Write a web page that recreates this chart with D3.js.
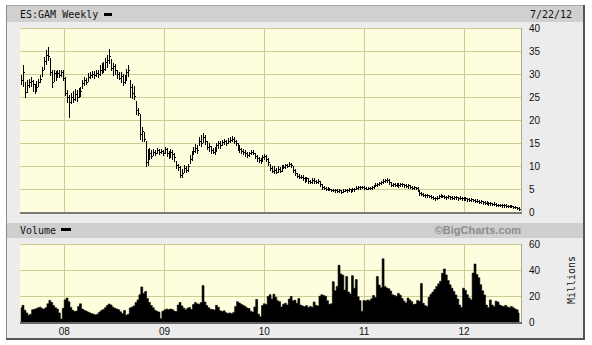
<!DOCTYPE html>
<html lang="en">
<head>
<meta charset="utf-8">
<script src="https://d3js.org/d3.v7.min.js"></script>
<style>
  body { margin: 0; background: #fff; }
  svg text { font-family: "Liberation Sans", Arial, sans-serif; font-size: 10px; fill: #111; }
  svg text.mono { font-family: "DejaVu Sans Mono", monospace; }
</style>
</head>
<body>
<div id="chart"></div>
<script>
// weekly bars, first one on this date, one per week
const firstWeek = new Date(2007, 6, 27);

const hi = [
  29.8, 32.0, 28.2, 28.8, 29.0, 29.4, 28.8, 27.8, 28.6, 28.9,
  29.8, 31.5, 33.8, 35.2, 35.8, 33.4, 31.0, 31.0, 30.6, 31.0,
  30.8, 31.0, 30.8, 29.4, 26.5, 25.5, 25.8, 26.4, 26.8, 26.6,
  27.0, 27.2, 28.8, 29.4, 29.2, 30.2, 30.4, 30.6, 30.6, 30.8,
  31.0, 32.0, 32.4, 32.6, 33.6, 34.2, 35.4, 33.2, 32.4, 32.2,
  31.0, 30.4, 30.4, 30.0, 29.8, 31.2, 32.0, 28.7, 27.8, 27.4,
  24.2, 22.6, 21.4, 18.6, 17.4, 15.6, 13.8, 14.0, 13.6, 13.8,
  13.6, 14.0, 13.8, 13.8, 13.6, 14.2, 14.0, 13.4, 13.8, 13.6,
  13.0, 11.2, 10.6, 10.0, 9.4, 10.2, 10.0, 10.6, 12.4, 13.4,
  14.2, 14.8, 14.6, 16.4, 16.8, 17.2, 16.8, 15.4, 15.0, 14.4,
  14.0, 14.2, 15.0, 15.6, 15.4, 15.8, 16.0, 15.8, 16.2, 16.4,
  16.6, 16.4, 15.8, 15.0, 14.6, 14.0, 13.8, 13.6, 13.2, 13.2,
  13.6, 13.6, 13.0, 12.4, 12.0, 11.8, 12.4, 12.6, 12.4, 11.8,
  10.6, 10.0, 10.0, 9.6, 10.0, 9.8, 10.3, 10.4, 10.6, 10.6,
  11.0, 10.8, 10.0, 9.4, 8.6, 8.4, 8.2, 8.1, 7.6, 7.8,
  7.4, 7.0, 7.4, 7.4, 7.0, 7.2, 6.8, 6.2, 5.8, 5.6,
  5.6, 5.4, 5.2, 5.2, 5.1, 5.0, 5.0, 4.9, 5.0, 5.2,
  5.2, 5.3, 5.2, 5.4, 5.3, 5.8, 5.8, 5.8, 5.8, 5.7,
  5.6, 5.6, 5.6, 5.8, 6.0, 6.3, 6.5, 6.7, 6.9, 7.2,
  7.3, 7.4, 7.2, 6.6, 6.4, 6.3, 6.4, 6.4, 6.4, 6.4,
  6.2, 6.2, 6.1, 5.9, 5.8, 5.8, 5.6, 5.5, 4.8, 4.4,
  4.2, 4.1, 4.1, 3.9, 3.8, 3.6, 3.4, 3.6, 3.8, 4.0,
  3.9, 3.8, 3.6, 3.7, 3.6, 3.5, 3.6, 3.6, 3.4, 3.5,
  3.3, 3.3, 3.3, 3.2, 3.1, 3.1, 3.0, 2.9, 2.9, 2.7,
  2.7, 2.5, 2.5, 2.4, 2.3, 2.3, 2.1, 2.2, 2.0, 1.9,
  1.9, 1.8, 1.8, 1.8, 1.7, 1.7, 1.6, 1.5, 1.4, 1.3, 1.1
];

const lo = [
  27.8, 27.4, 25.1, 26.2, 27.2, 27.4, 26.4, 25.8, 26.6, 27.4,
  28.2, 29.5, 31.2, 32.3, 33.0, 29.8, 27.3, 28.6, 28.8, 29.4,
  29.4, 29.6, 28.8, 25.5, 24.0, 20.8, 23.8, 24.0, 24.4, 24.2,
  25.0, 25.2, 27.0, 27.6, 27.8, 28.6, 29.2, 29.4, 29.2, 29.6,
  29.4, 29.8, 30.2, 30.4, 31.0, 31.6, 32.4, 30.8, 29.8, 30.0,
  29.2, 28.9, 28.4, 27.6, 28.0, 28.8, 29.6, 25.0, 24.8, 24.6,
  21.4, 21.2, 16.0, 15.6, 15.4, 10.1, 10.2, 11.6, 11.8, 12.4,
  12.4, 12.8, 12.6, 13.0, 12.4, 12.8, 12.2, 11.8, 12.0, 11.6,
  11.2, 9.6, 9.2, 7.8, 7.6, 8.8, 8.8, 9.0, 10.8, 11.4,
  12.6, 13.2, 12.8, 14.6, 14.4, 15.2, 14.8, 13.8, 13.4, 13.0,
  12.8, 12.7, 13.4, 14.0, 14.0, 14.6, 14.8, 14.6, 15.0, 15.2,
  15.4, 15.0, 14.6, 13.6, 13.2, 12.8, 12.6, 12.2, 12.0, 12.2,
  12.6, 12.6, 11.8, 11.2, 11.0, 10.8, 11.2, 11.6, 11.2, 10.4,
  9.2, 8.8, 8.6, 8.5, 8.8, 8.8, 9.0, 9.6, 9.6, 9.8,
  10.0, 9.8, 8.8, 8.1, 7.6, 7.4, 7.4, 7.0, 6.7, 6.8,
  6.4, 6.3, 6.4, 6.4, 6.3, 6.4, 5.8, 5.2, 5.2, 4.9,
  4.9, 4.8, 4.6, 4.6, 4.5, 4.5, 4.4, 4.3, 4.4, 4.6,
  4.5, 4.6, 4.5, 4.7, 4.7, 5.1, 5.2, 5.2, 5.3, 5.1,
  5.0, 5.0, 5.1, 5.2, 5.3, 5.7, 5.8, 6.0, 6.2, 6.5,
  6.6, 6.7, 6.2, 5.8, 5.7, 5.7, 5.8, 5.6, 5.8, 5.8,
  5.6, 5.5, 5.4, 5.3, 5.2, 5.2, 5.1, 4.6, 3.8, 3.7,
  3.6, 3.4, 3.4, 3.3, 3.2, 2.9, 2.8, 2.9, 3.1, 3.3,
  3.3, 3.2, 3.0, 3.1, 3.0, 2.9, 3.0, 3.0, 2.8, 2.9,
  2.8, 2.8, 2.7, 2.6, 2.5, 2.6, 2.5, 2.3, 2.2, 2.0,
  2.0, 1.9, 1.9, 1.8, 1.7, 1.7, 1.6, 1.6, 1.5, 1.4,
  1.4, 1.3, 1.3, 1.3, 1.2, 1.2, 1.1, 1.0, 1.0, 0.8, 0.6
];

const cl = [
  28.8, 30.5, 26.2, 27.6, 28.2, 28.6, 27.8, 26.4, 27.2, 28.3,
  29.0, 30.8, 32.8, 34.2, 34.0, 30.5, 28.2, 30.2, 29.4, 30.2,
  29.8, 30.4, 29.2, 26.0, 25.0, 24.0, 25.0, 24.6, 25.6, 25.0,
  25.8, 26.4, 28.0, 28.8, 28.2, 29.4, 29.8, 30.0, 29.8, 30.2,
  30.0, 31.0, 31.6, 31.2, 32.6, 33.0, 34.0, 31.4, 31.8, 30.8,
  30.0, 29.2, 29.6, 28.4, 29.2, 30.4, 31.0, 27.2, 26.0, 25.2,
  22.2, 21.6, 17.0, 17.6, 16.0, 11.0, 12.4, 13.0, 12.2, 13.2,
  12.8, 13.6, 13.2, 13.4, 12.8, 13.8, 13.0, 12.4, 13.2, 12.6,
  12.0, 10.2, 9.8, 8.2, 8.6, 9.6, 9.2, 10.0, 11.6, 12.6,
  13.4, 14.0, 13.6, 15.6, 15.0, 16.4, 15.6, 14.2, 14.4, 13.6,
  13.2, 13.8, 14.6, 15.0, 14.6, 15.2, 15.4, 15.0, 15.6, 15.8,
  16.0, 15.6, 15.0, 14.2, 13.8, 13.4, 13.2, 12.8, 12.4, 12.8,
  13.2, 13.0, 12.2, 11.8, 11.4, 11.2, 12.0, 12.2, 11.6, 11.0,
  9.6, 9.0, 9.2, 8.8, 9.4, 9.0, 9.8, 9.8, 10.2, 10.0,
  10.6, 10.2, 9.2, 8.6, 8.0, 7.8, 7.6, 7.4, 7.0, 7.4,
  6.8, 6.6, 7.0, 6.8, 6.6, 6.8, 6.2, 5.6, 5.4, 5.2,
  5.2, 5.0, 4.8, 4.9, 4.8, 4.6, 4.8, 4.5, 4.7, 4.9,
  4.8, 5.0, 4.8, 5.0, 5.0, 5.4, 5.6, 5.5, 5.6, 5.3,
  5.2, 5.4, 5.3, 5.5, 5.8, 6.0, 6.2, 6.4, 6.6, 6.8,
  7.0, 7.1, 6.6, 6.0, 6.1, 6.0, 6.2, 6.0, 6.2, 6.1,
  6.0, 5.8, 5.9, 5.6, 5.4, 5.5, 5.3, 4.8, 4.2, 4.0,
  3.9, 3.7, 3.8, 3.5, 3.4, 3.2, 3.1, 3.2, 3.5, 3.7,
  3.6, 3.4, 3.3, 3.5, 3.3, 3.2, 3.4, 3.3, 3.1, 3.2,
  3.1, 3.0, 3.1, 2.9, 2.8, 2.9, 2.7, 2.5, 2.6, 2.3,
  2.4, 2.2, 2.1, 2.2, 2.0, 2.0, 1.8, 1.9, 1.7, 1.6,
  1.7, 1.6, 1.6, 1.5, 1.4, 1.5, 1.4, 1.3, 1.2, 1.0, 0.8
];

// weekly volume, millions
const vol = [
  11, 12.8, 9, 7, 5.2, 6, 9.4, 9.8, 10.2, 11,
  11.4, 10.2, 10, 11, 14, 16.6, 15, 12.6, 11, 10,
  7, 2.4, 10.5, 17, 18.4, 15.5, 11.2, 9, 8, 8.4,
  12, 14, 10, 9, 8.4, 7.6, 7, 6.4, 6, 5.4,
  6.2, 7.6, 8.8, 9.6, 11, 12.6, 13.8, 13, 11.4, 10.6,
  10, 9.4, 7.8, 6.4, 8.8, 5.2, 6, 10.8, 11.6, 12.4,
  15, 17, 21, 27, 22, 23.5, 18, 15, 12.6, 11,
  9, 8.2, 7.6, 2.6, 8.2, 9.2, 10, 9.4, 10, 9.6,
  8.4, 8, 13, 15, 12.4, 10.6, 9.4, 10.6, 11.2, 9.6,
  13.4, 15, 14, 13.6, 15, 28, 15.4, 12.6, 11, 9.8,
  9.6, 9.2, 12.8, 11.4, 8.6, 8, 8.6, 7.2, 6.6, 7,
  6.4, 7.4, 12, 15.6, 14.6, 13.6, 12.8, 12, 10.8, 10.4,
  8.2, 7.6, 11.6, 17.4, 6, 4, 12.6, 14, 13.4, 19.6,
  21, 17.6, 21.4, 19, 16.4, 15.6, 11.6, 13.6, 14.4, 13,
  17.6, 19.6, 16.4, 16.8, 14.4, 18, 13, 12.4, 11.8, 12.6,
  11.2, 12, 11.4, 15.4, 12.8, 12.4, 19.8, 21, 20.4, 19.8,
  16.4, 13.6, 14, 31, 24, 27.4, 43.6, 37, 36, 24.6,
  35, 23, 21.6, 35.6, 26, 32.6, 19.4, 16.4, 8.2, 16.6,
  16.2, 17, 16.4, 17.8, 20.4, 18.8, 35, 28.4, 26.4, 48.6,
  27.4, 26.2, 25.6, 23.8, 21, 20.4, 19.8, 22, 20.6, 18,
  16, 14.6, 18.4, 17, 15.6, 13.4, 13.8, 16.6, 16, 29.6,
  14.4, 12.6, 12, 19, 21.4, 23, 25, 27.4, 29.4, 31.4,
  37.5, 40.8, 36.2, 32, 28.6, 26, 23.4, 20.8, 17.6, 13,
  11.2, 26, 24.4, 21, 18.4, 17, 37.6, 44.6, 36.6, 34,
  28.6, 24, 20.8, 13, 11, 17, 13, 12, 16, 15.4,
  13, 12.4, 12, 12.8, 11.6, 11, 12, 11, 10, 9.4, 7
];

const priceTicks = [0, 5, 10, 15, 20, 25, 30, 35, 40];
const volTicks = [0, 20, 40, 60];
const yearTicks = [2008, 2009, 2010, 2011, 2012];

const W = 592, H = 345;
const left = 20, right = 521;
const pTop = 28, pBottom = 212.5;
const vTop = 244, vBottom = 322;
const gridColor = "#cdcd92";
const plotFill = "#fefedf";

const svg = d3.select("#chart")
  .append("svg")
    .attr("width", W)
    .attr("height", H);

const dates = cl.map((d, i) => d3.timeDay.offset(firstWeek, 7 * i));

const x = d3.scaleTime()
  .domain([new Date(2007, 6, 23), new Date(2012, 6, 27)])
  .range([left, right]);
const y = d3.scaleLinear().domain([0, 40]).range([pBottom, pTop]);
const yv = d3.scaleLinear().domain([0, 60]).range([vBottom, vTop]);

// outer frame
svg.append("rect").attr("x", 6).attr("y", 5).attr("width", 578).attr("height", 333).attr("fill", "#ececec");
svg.append("rect").attr("x", 7).attr("y", 6).attr("width", 577).attr("height", 16).attr("fill", "#d0d0d0");
svg.append("rect").attr("x", 7).attr("y", 223).attr("width", 577).attr("height", 15).attr("fill", "#cfcfcf");
svg.append("rect").attr("x", 6).attr("y", 5).attr("width", 578).attr("height", 1).attr("fill", "#a8a8a8");
svg.append("rect").attr("x", 6).attr("y", 5).attr("width", 1).attr("height", 334).attr("fill", "#8a8a8a");
svg.append("rect").attr("x", 583).attr("y", 5).attr("width", 2).attr("height", 335).attr("fill", "#555");
svg.append("rect").attr("x", 6).attr("y", 338).attr("width", 579).attr("height", 2).attr("fill", "#555");

// plot areas
svg.append("rect").attr("x", left).attr("y", pTop).attr("width", right - left).attr("height", pBottom - pTop).attr("fill", plotFill);
svg.append("rect").attr("x", left).attr("y", vTop).attr("width", right - left).attr("height", vBottom - vTop).attr("fill", plotFill);

const grid = svg.append("g")
  .attr("stroke", gridColor)
  .attr("stroke-width", 1)
  .attr("shape-rendering", "crispEdges");

grid.selectAll(".pg")
  .data(priceTicks.filter(d => d > 0))
  .join("line")
    .attr("x1", left).attr("x2", right)
    .attr("y1", d => Math.round(y(d)) + 0.5)
    .attr("y2", d => Math.round(y(d)) + 0.5);

grid.selectAll(".vg")
  .data(volTicks.filter(d => d > 0))
  .join("line")
    .attr("class", "vg")
    .attr("x1", left).attr("x2", right)
    .attr("y1", d => Math.round(yv(d)) + 0.5)
    .attr("y2", d => Math.round(yv(d)) + 0.5);

yearTicks.forEach(yr => {
  const xx = Math.round(x(new Date(yr, 0, 1))) + 0.5;
  grid.append("line").attr("x1", xx).attr("x2", xx).attr("y1", pTop).attr("y2", pBottom);
  grid.append("line").attr("x1", xx).attr("x2", xx).attr("y1", vTop).attr("y2", vBottom);
});

// right edges of the panels
[[pTop, pBottom], [vTop, vBottom]].forEach(([a, b]) => {
  svg.append("line")
    .attr("x1", right + 0.5).attr("x2", right + 0.5)
    .attr("y1", a).attr("y2", b + 1)
    .attr("stroke", "#a9a99a")
    .attr("shape-rendering", "crispEdges");
});

// price bars (high-low with close tick)
svg.append("path")
  .attr("fill", "none")
  .attr("stroke", "#000")
  .attr("stroke-width", 1)
  .attr("shape-rendering", "crispEdges")
  .attr("d", dates.map((d, i) => {
    const xx = Math.round(x(d));
    const top = Math.round(y(hi[i]));
    const bot = Math.max(Math.round(y(lo[i])), top + 1);
    const yc = Math.round(y(cl[i])) + 0.5;
    return `M${xx + 0.5},${top}V${bot + 1}M${xx},${yc}H${xx + 2}`;
  }).join(""));

// volume mountain
const area = d3.area()
  .x((d, i) => x(dates[i]))
  .y0(vBottom)
  .y1(d => yv(d))
  .curve(d3.curveStep);

svg.append("path")
  .datum(vol)
  .attr("fill", "#000")
  .attr("stroke", "#000")
  .attr("stroke-width", 0.6)
  .attr("d", area);

// bottom axis lines
svg.append("rect").attr("x", left).attr("y", 212).attr("width", right - left + 1).attr("height", 2).attr("fill", "#7a7a7a");
svg.append("rect").attr("x", left).attr("y", 322).attr("width", right - left + 1).attr("height", 2).attr("fill", "#666");

// tick labels
svg.selectAll(".plab")
  .data(priceTicks)
  .join("text")
    .attr("x", 529)
    .attr("y", d => y(d))
    .attr("dy", "0.36em")
    .text(d => d);

svg.selectAll(".vlab")
  .data(volTicks)
  .join("text")
    .attr("class", "vlab")
    .attr("x", 529)
    .attr("y", d => yv(d))
    .attr("dy", "0.36em")
    .text(d => d);

svg.selectAll(".xlab")
  .data(yearTicks)
  .join("text")
    .attr("class", "xlab")
    .attr("x", d => x(new Date(d, 0, 1)))
    .attr("y", 334.5)
    .attr("text-anchor", "middle")
    .text(d => d3.timeFormat("%y")(new Date(d, 0, 1)));

svg.append("text")
  .attr("class", "mono")
  .attr("transform", "translate(575,280) rotate(-90)")
  .attr("text-anchor", "middle")
  .text("Millions");

// header texts and legend keys
svg.append("text").attr("class", "mono").attr("x", 20).attr("y", 17.5).text("ES:GAM Weekly");
svg.append("rect").attr("x", 104).attr("y", 13).attr("width", 8).attr("height", 3).attr("fill", "#000");
svg.append("text").attr("class", "mono").attr("x", 530).attr("y", 17.5).text("7/22/12");

svg.append("text").attr("class", "mono").attr("x", 20).attr("y", 233.5).text("Volume");
svg.append("rect").attr("x", 61).attr("y", 228).attr("width", 10).attr("height", 3).attr("fill", "#000");

svg.append("text")
  .attr("x", 521)
  .attr("y", 234)
  .attr("text-anchor", "end")
  .style("font-weight", "bold")
  .style("font-size", "11px")
  .style("fill", "#8c8c8c")
  .text("\u00A9BigCharts.com");
</script>
</body>
</html>
